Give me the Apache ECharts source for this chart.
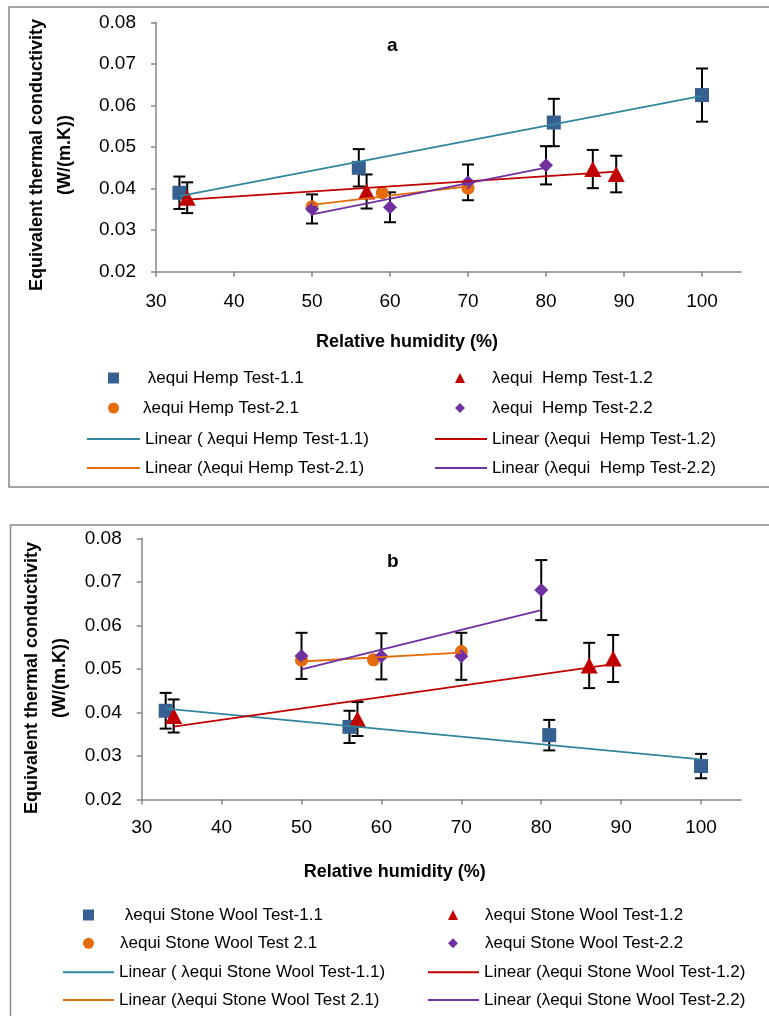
<!DOCTYPE html>
<html>
<head>
<meta charset="utf-8">
<script src="https://cdn.jsdelivr.net/npm/echarts@6/dist/echarts.min.js"></script>
<style>
html,body{margin:0;padding:0;background:#fff;}
#c{width:769px;height:1016px;}
</style>
</head>
<body>
<div id="c"></div>
<script>
// ---------- shared ticks ----------
const xTicks = [30, 40, 50, 60, 70, 80, 90, 100];
const yTicks = [0.02, 0.03, 0.04, 0.05, 0.06, 0.07, 0.08];

// ---------- panel a : Hemp ----------
const hempNames = [' λequi Hemp Test-1.1', 'λequi  Hemp Test-1.2', 'λequi Hemp Test-2.1', 'λequi  Hemp Test-2.2'];
const hempLinearNames = ['Linear ( λequi Hemp Test-1.1)', 'Linear (λequi  Hemp Test-1.2)', 'Linear (λequi Hemp Test-2.1)', 'Linear (λequi  Hemp Test-2.2)'];
const hempX11 = [33, 56, 81, 100];
const hempY11 = [0.0390, 0.0450, 0.0559, 0.0625];
const hempE11 = [0.0039, 0.0045, 0.0057, 0.0064];
const hempX12 = [34, 57, 86, 89];
const hempY12 = [0.0378, 0.0393, 0.0447, 0.0435];
const hempE12 = [0.0037, 0.0041, 0.0046, 0.0044];
const hempX21 = [50, 59, 70];
const hempY21 = [0.0356, 0.0390, 0.0401];
const hempX22 = [50, 60, 70, 80];
const hempY22 = [0.0351, 0.0355, 0.0415, 0.0456];
const hempE22 = [0.0035, 0.0036, 0.0043, 0.0046];

// ---------- panel b : Stone Wool ----------
const woolNames = [' λequi Stone Wool Test-1.1', 'λequi Stone Wool Test-1.2', 'λequi Stone Wool Test 2.1', 'λequi Stone Wool Test-2.2'];
const woolLinearNames = ['Linear ( λequi Stone Wool Test-1.1)', 'Linear (λequi Stone Wool Test-1.2)', 'Linear (λequi Stone Wool Test 2.1)', 'Linear (λequi Stone Wool Test-2.2)'];
const woolX11 = [33, 56, 81, 100];
const woolY11 = [0.0404, 0.0367, 0.0348, 0.0277];
const woolE11 = [0.0041, 0.0037, 0.0035, 0.0028];
const woolX12 = [34, 57, 86, 89];
const woolY12 = [0.0392, 0.0385, 0.0508, 0.0524];
const woolE12 = [0.0038, 0.0039, 0.0052, 0.0054];
const woolX21 = [50, 59, 70];
const woolY21 = [0.0520, 0.0521, 0.0540];
const woolX22 = [50, 60, 70, 80];
const woolY22 = [0.0530, 0.0529, 0.0529, 0.0681];
const woolE22 = [0.0053, 0.0053, 0.0054, 0.0069];

// ---------- styling ----------
const FONT = 'Liberation Sans';
const markerColors = ['#376092', '#C00000', '#E46C0A', '#7030A0'];
const lineColors = ['#31859C', '#C00000', '#E46C0A', '#7030A0'];
const symbols = ['rect', 'triangle', 'circle', 'diamond'];
const symbolSizes = [14, [17, 16], 13, 14];
const axisGray = '#868686';

function zip(xs, ys) { return xs.map((x, i) => [x, ys[i]]); }
function linFit(xs, ys) {
  const n = xs.length;
  const mx = xs.reduce((a, b) => a + b, 0) / n;
  const my = ys.reduce((a, b) => a + b, 0) / n;
  let sxx = 0, sxy = 0;
  for (let i = 0; i < n; i++) { sxx += (xs[i] - mx) * (xs[i] - mx); sxy += (xs[i] - mx) * (ys[i] - my); }
  const b = sxy / sxx, a = my - b * mx;
  const x0 = Math.min(...xs), x1 = Math.max(...xs);
  return [[x0, a + b * x0], [x1, a + b * x1]];
}
function errData(xs, ys, es) { return xs.map((x, i) => [x, ys[i] - es[i], ys[i] + es[i]]); }

function errSeries(g, data) {
  return {
    type: 'custom', xAxisIndex: g, yAxisIndex: g, z: 2, silent: true,
    encode: { x: 0, y: [1, 2] },
    data: data,
    renderItem: function (params, api) {
      const lo = api.coord([api.value(0), api.value(1)]);
      const hi = api.coord([api.value(0), api.value(2)]);
      const w = 6, st = { stroke: '#000', lineWidth: 2 };
      return { type: 'group', children: [
        { type: 'line', shape: { x1: lo[0], y1: lo[1], x2: hi[0], y2: hi[1] }, style: st },
        { type: 'line', shape: { x1: lo[0] - w, y1: lo[1], x2: lo[0] + w, y2: lo[1] }, style: st },
        { type: 'line', shape: { x1: hi[0] - w, y1: hi[1], x2: hi[0] + w, y2: hi[1] }, style: st }
      ]};
    }
  };
}

function panelSeries(g, names, linNames, xsArr, ysArr, errs) {
  const s = [];
  errs.forEach(e => { if (e) s.push(errSeries(g, errData(xsArr[e.i], ysArr[e.i], e.v))); });
  for (let i = 0; i < 4; i++) {
    s.push({
      type: 'scatter', name: names[i], xAxisIndex: g, yAxisIndex: g, z: 3,
      symbol: symbols[i], symbolSize: symbolSizes[i],
      itemStyle: { color: markerColors[i], opacity: 1 },
      data: zip(xsArr[i], ysArr[i])
    });
  }
  for (let i = 0; i < 4; i++) {
    s.push({
      type: 'line', name: linNames[i], xAxisIndex: g, yAxisIndex: g, z: 4,
      symbol: 'none', showSymbol: false,
      lineStyle: { color: lineColors[i], width: 1.8 },
      itemStyle: { color: lineColors[i] },
      data: linFit(xsArr[i], ysArr[i])
    });
  }
  return s;
}

function xAxisCfg(g, margin, nameGap, shift) {
  return {
    type: 'value', gridIndex: g, min: 30, max: 105, interval: 10,
    axisLine: { show: true, onZero: false, lineStyle: { color: axisGray, width: 1.5 } },
    axisTick: { show: true, length: 5, customValues: xTicks, lineStyle: { color: axisGray, width: 1.5 } },
    axisLabel: { customValues: xTicks, color: '#000', fontSize: 19, fontFamily: FONT, margin: margin },
    splitLine: { show: false },
    name: 'Relative humidity (%)', nameLocation: 'middle', nameGap: nameGap,
    nameTextStyle: { color: '#000', fontSize: 18, fontWeight: 'bold', fontFamily: FONT, padding: [0, shift, 0, 0] }
  };
}
function yAxisCfg(g, nameGap, shift) {
  return {
    type: 'value', gridIndex: g, min: 0.02, max: 0.08, interval: 0.01,
    axisLine: { show: true, onZero: false, lineStyle: { color: axisGray, width: 1.5 } },
    axisTick: { show: true, length: 5, lineStyle: { color: axisGray, width: 1.5 } },
    axisLabel: { color: '#000', fontSize: 19, fontFamily: FONT, margin: 20, formatter: v => v.toFixed(2) },
    splitLine: { show: false },
    name: 'Equivalent thermal conductivity\n(W/(m.K))', nameLocation: 'middle', nameRotate: 90, nameGap: nameGap,
    nameTextStyle: { color: '#000', fontSize: 18, fontWeight: 'bold', fontFamily: FONT, lineHeight: 28, align: 'center', padding: [0, shift, 0, 0] }
  };
}

function legendCfg(names, left, top, gap, iw, ih, pad, icon) {
  return {
    data: names.map(n => icon ? { name: n, icon: icon } : { name: n }),
    orient: 'vertical', left: left, top: top, itemGap: gap,
    itemWidth: iw, itemHeight: ih, padding: 0, selectedMode: false,
    textStyle: { color: '#000', fontSize: 17, fontFamily: FONT, lineHeight: 20, padding: [0, 0, 0, pad] }
  };
}

const series = [].concat(
  panelSeries(0, hempNames, hempLinearNames,
    [hempX11, hempX12, hempX21, hempX22], [hempY11, hempY12, hempY21, hempY22],
    [{ i: 0, v: hempE11 }, { i: 1, v: hempE12 }, { i: 3, v: hempE22 }]),
  panelSeries(1, woolNames, woolLinearNames,
    [woolX11, woolX12, woolX21, woolX22], [woolY11, woolY12, woolY21, woolY22],
    [{ i: 0, v: woolE11 }, { i: 1, v: woolE12 }, { i: 3, v: woolE22 }])
);

const option = {
  animation: false,
  backgroundColor: '#fff',
  textStyle: { fontFamily: FONT },
  title: [
    { text: 'a', left: 387, top: 36, padding: 0, textStyle: { fontSize: 19, fontWeight: 'bold', color: '#000', fontFamily: FONT } },
    { text: 'b', left: 387, top: 552, padding: 0, textStyle: { fontSize: 19, fontWeight: 'bold', color: '#000', fontFamily: FONT } }
  ],
  grid: [
    { left: 156, top: 20.7, width: 585, height: 251, containLabel: false },
    { left: 141.7, top: 538.3, width: 599.3, height: 261.3, containLabel: false }
  ],
  xAxis: [xAxisCfg(0, 21, 61, 83), xAxisCfg(1, 19, 63, 93)],
  yAxis: [yAxisCfg(0, 77, 16), yAxisCfg(1, 67, 18)],
  legend: [
    legendCfg([hempNames[0], hempNames[2]], 108, 368, 10, 11, 11, 19),
    legendCfg([hempNames[1], hempNames[3]], 455, 368, 10, 10, 10, 22),
    legendCfg([hempLinearNames[0], hempLinearNames[2]], 87, 429, 9, 53, 2, 0, 'rect'),
    legendCfg([hempLinearNames[1], hempLinearNames[3]], 435, 429, 9, 52, 2, 0, 'rect'),
    legendCfg([woolNames[0], woolNames[2]], 83, 905, 8.3, 11, 11, 21),
    legendCfg([woolNames[1], woolNames[3]], 448, 905, 8.3, 10, 10, 22),
    legendCfg([woolLinearNames[0], woolLinearNames[2]], 63, 962.3, 7.7, 51, 2, 0, 'rect'),
    legendCfg([woolLinearNames[1], woolLinearNames[3]], 428, 962.3, 7.7, 51, 2, 0, 'rect')
  ],
  graphic: [
    { type: 'rect', z: -10, silent: true, shape: { x: 9, y: 7, width: 800, height: 480 }, style: { fill: 'none', stroke: axisGray, lineWidth: 1.5 } },
    { type: 'rect', z: -10, silent: true, shape: { x: 10.5, y: 525, width: 800, height: 520 }, style: { fill: 'none', stroke: axisGray, lineWidth: 1.5 } }
  ],
  series: series
};

const chart = echarts.init(document.getElementById('c'), null, { renderer: 'canvas' });
chart.setOption(option);
</script>
</body>
</html>
